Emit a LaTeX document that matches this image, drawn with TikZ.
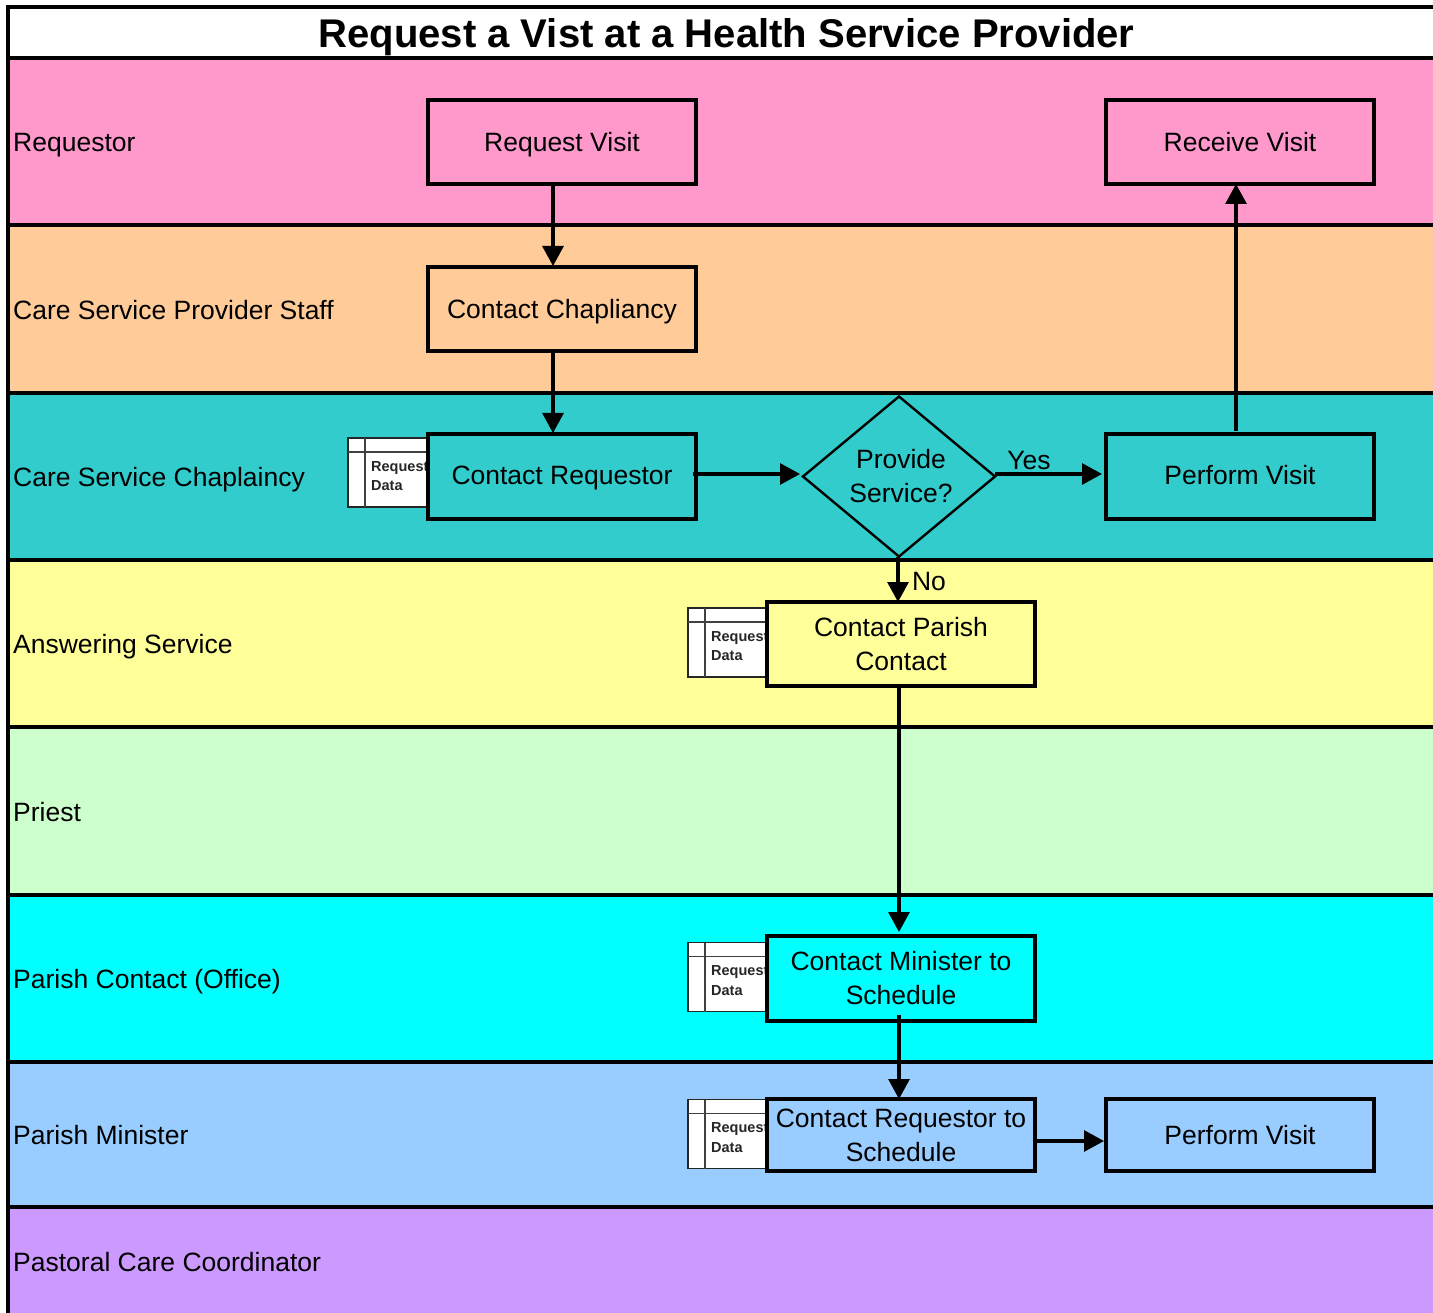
\documentclass[tikz,border=0pt]{standalone}
\usepackage{fontspec}
\setmainfont{Liberation Sans}
\usetikzlibrary{arrows.meta,shapes.geometric,calc}
\definecolor{lpink}{HTML}{FF99CC}
\definecolor{lorange}{HTML}{FFCC99}
\definecolor{lteal}{HTML}{33CCCC}
\definecolor{lyellow}{HTML}{FFFF99}
\definecolor{lgreen}{HTML}{CCFFCC}
\definecolor{lcyan}{HTML}{00FFFF}
\definecolor{lblue}{HTML}{99CCFF}
\definecolor{lpurple}{HTML}{CC99FF}
\tikzset{
  lane/.style={anchor=north west,draw=black,line width=3.4pt,minimum width=1460pt,inner sep=0pt,outer sep=0pt},
  lanelabel/.style={anchor=west,font=\fontsize{26.5}{30}\selectfont,inner sep=0pt,text height=19pt,text depth=0pt},
  stepbox/.style={draw=black,line width=3.4pt,minimum width=268pt,align=center,inner sep=0pt,outer sep=0pt,font=\fontsize{26.5}{34}\selectfont},
  onebox/.style={stepbox,text height=19pt,text depth=0pt},
  decision/.style={diamond,aspect=1.2,draw=black,line width=2.4pt,minimum width=192pt,minimum height=160pt,inner sep=0pt,outer sep=0pt},
  flow/.style={draw=black,line width=3.05pt,-{Triangle[length=20pt,width=21pt]}},
  docicon/.style={draw=black!85,fill=white,line width=1.6pt,minimum width=80pt,minimum height=69pt,inner sep=0pt,outer sep=0pt},
  docline/.style={draw=black!75,line width=1.8pt},
  doctext/.style={anchor=north west,align=left,inner sep=0pt,text=black!85,font=\bfseries\fontsize{14.5}{19.5}\selectfont},
  flowlabel/.style={inner sep=0pt,font=\fontsize{26.5}{30}\selectfont,text height=19pt,text depth=0pt},
}
\begin{document}
\begin{tikzpicture}[x=1pt,y=-1pt]
\useasboundingbox (0,0) rectangle (1433,1313);
\clip (0,0) rectangle (1433,1313);
% lanes
\node[lane,fill=white,minimum height=51pt] (ltitle) at (8,7) {};
\node[lane,fill=lpink,minimum height=167pt] (l1) at (8,58) {};
\node[lane,fill=lorange,minimum height=168pt] (l2) at (8,225) {};
\node[lane,fill=lteal,minimum height=167pt] (l3) at (8,393) {};
\node[lane,fill=lyellow,minimum height=167pt] (l4) at (8,560) {};
\node[lane,fill=lgreen,minimum height=168pt] (l5) at (8,727) {};
\node[lane,fill=lcyan,minimum height=167pt] (l6) at (8,895) {};
\node[lane,fill=lblue,minimum height=145pt] (l7) at (8,1062) {};
\node[lane,fill=lpurple,minimum height=130pt] (l8) at (8,1207) {};
\node[inner sep=0pt,text height=28pt,text depth=0pt,font=\bfseries\fontsize{40.05}{44}\selectfont] (title) at (726.5,34) {Request a Vist at a Health Service Provider};
\node[lanelabel] (t1) at (13,142) {Requestor};
\node[lanelabel] (t2) at (13,310) {Care Service Provider Staff};
\node[lanelabel] (t3) at (13,477) {Care Service Chaplaincy};
\node[lanelabel] (t4) at (13,644) {Answering Service};
\node[lanelabel] (t5) at (13,812) {Priest};
\node[lanelabel] (t6) at (13,979) {Parish Contact (Office)};
\node[lanelabel] (t7) at (13,1135) {Parish Minister};
\node[lanelabel] (t8) at (13,1262) {Pastoral Care Coordinator};
% data icons
\node[docicon] (d1) at (388,472.5) {};
\draw[docline] (d1.north west)++(17,0) -- ++(0,69);
\draw[docline] (d1.north west)++(0,14) -- ++(80,0);
\node[doctext] (d1t) at (371,461) {Request\\Data};
\node[docicon] (d2) at (728,642.5) {};
\draw[docline] (d2.north west)++(17,0) -- ++(0,69);
\draw[docline] (d2.north west)++(0,14) -- ++(80,0);
\node[doctext] (d2t) at (711,631) {Request\\Data};
\node[docicon] (d3) at (728,977) {};
\draw[docline] (d3.north west)++(17,0) -- ++(0,69);
\draw[docline] (d3.north west)++(0,14) -- ++(80,0);
\node[doctext] (d3t) at (711,965.5) {Request\\Data};
\node[docicon] (d4) at (728,1134) {};
\draw[docline] (d4.north west)++(17,0) -- ++(0,69);
\draw[docline] (d4.north west)++(0,14) -- ++(80,0);
\node[doctext] (d4t) at (711,1122.5) {Request\\Data};
% steps
\node[onebox,fill=lpink,minimum height=84pt] (rv) at (562,142) {Request Visit};
\node[onebox,fill=lpink,minimum height=84pt] (recv) at (1240,142) {Receive Visit};
\node[onebox,fill=lorange,minimum height=84pt] (cc) at (562,309) {Contact Chapliancy};
\node[onebox,fill=lteal,minimum height=85pt,text depth=2pt] (cr) at (562,476.5) {Contact Requestor};
\node[decision,fill=lteal] (ps) at (899,476.5) {};
\node[align=center,inner sep=0pt,font=\fontsize{26.5}{34}\selectfont] (pst) at (901,476) {Provide\\Service?};
\node[onebox,fill=lteal,minimum height=85pt,text depth=2pt] (pv) at (1240,476.5) {Perform Visit};
\node[stepbox,fill=lyellow,minimum height=84pt] (cp) at (901,644) {Contact Parish\\Contact};
\node[stepbox,fill=lcyan,minimum height=85pt] (cm) at (901,978.5) {Contact Minister to\\Schedule};
\node[stepbox,fill=lblue,minimum height=72pt] (crs) at (901,1135) {Contact Requestor to\\Schedule};
\node[onebox,fill=lblue,minimum height=72pt] (pv2) at (1240,1135) {Perform Visit};
% connectors
\draw[flow] ([xshift=-9pt]rv.south) -- ([xshift=-9pt,yshift=1pt]cc.north);
\draw[flow] ([xshift=-9pt]cc.south) -- ([xshift=-9pt,yshift=1pt]cr.north);
\draw[flow] ([xshift=-3pt,yshift=2.5pt]cr.east) -- ([xshift=-3pt,yshift=2.5pt]ps.west);
\draw[flow] ([yshift=2.5pt]ps.east) -- ([xshift=-4pt,yshift=2.5pt]pv.west);
\draw[flow] ([xshift=-4pt,yshift=3pt]pv.north) -- ([xshift=-4pt]recv.south);
\draw[flow] ([xshift=-1pt]ps.south) -- ([xshift=-3pt]cp.north);
\draw[flow] ([xshift=-2pt]cp.south) -- ([xshift=-2pt,yshift=4pt]cm.north);
\draw[flow] ([xshift=-2pt,yshift=6pt]cm.south) -- ([xshift=-2pt]crs.north);
\draw[flow] ([yshift=-6pt]crs.east) -- ([xshift=-2pt,yshift=-6pt]pv2.west);
\node[flowlabel] (yes) at (1029,460) {Yes};
\node[flowlabel] (no) at (929,581) {No};
\end{tikzpicture}
\end{document}
